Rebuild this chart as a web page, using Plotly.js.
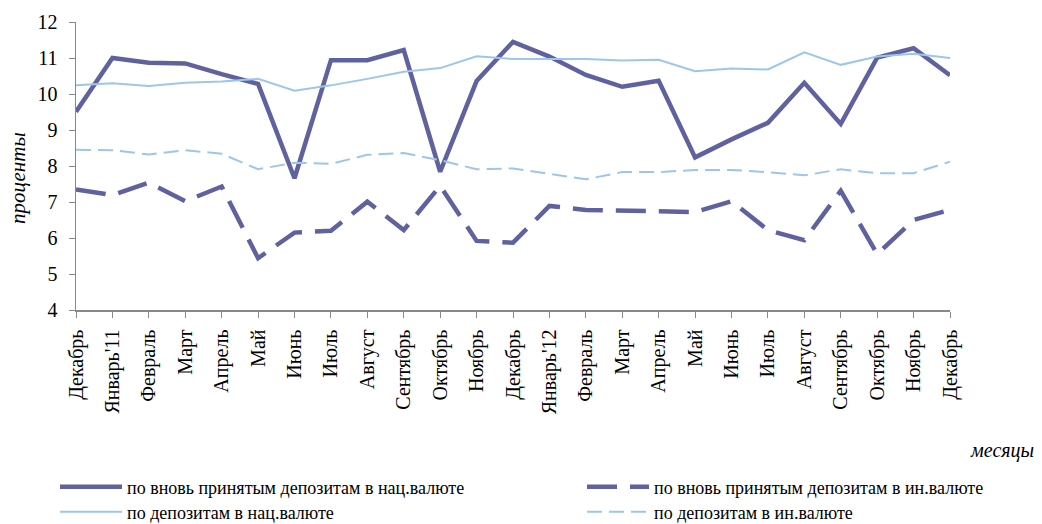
<!DOCTYPE html>
<html>
<head>
<meta charset="utf-8">
<script src="https://cdn.plot.ly/plotly-3.0.1.min.js"></script>
<style>
  html, body { margin: 0; padding: 0; background: #ffffff; }
  #chart { width: 1042px; height: 524px; }
</style>
</head>
<body>
<div id="chart"></div>
<script>
// Month labels (x axis)
var months = ["Декабрь", "Январь'11", "Февраль", "Март", "Апрель", "Май", "Июнь", "Июль", "Август",
  "Сентябрь", "Октябрь", "Ноябрь", "Декабрь", "Январь'12", "Февраль", "Март", "Апрель", "Май",
  "Июнь", "Июль", "Август", "Сентябрь", "Октябрь", "Ноябрь", "Декабрь"];

// Series names
var nameNewNat = "по вновь принятым депозитам в нац.валюте";
var nameNewFor = "по вновь принятым депозитам в ин.валюте";
var nameAllNat = "по депозитам в нац.валюте";
var nameAllFor = "по депозитам в ин.валюте";

// Axis titles
var yTitle = "проценты";
var xTitle = "месяцы";

// Values, percent
var newNat = [9.51, 11.0, 10.87, 10.85, 10.55, 10.28, 7.66, 10.94, 10.94, 11.22, 7.84, 10.36, 11.45,
  11.04, 10.53, 10.2, 10.37, 8.24, 8.74, 9.2, 10.31, 9.17, 11.01, 11.27, 10.52];
var newFor = [7.35, 7.19, 7.54, 7.02, 7.43, 5.44, 6.15, 6.2, 7.01, 6.22, 7.45, 5.92, 5.87,
  6.89, 6.78, 6.75, 6.72, 6.72, 7.02, 6.22, 5.94, 7.31, 5.55, 6.5, 6.78];
var allNat = [10.24, 10.3, 10.22, 10.31, 10.35, 10.42, 10.09, 10.24, 10.42, 10.62, 10.72, 11.05, 10.97,
  10.97, 10.97, 10.93, 10.95, 10.63, 10.71, 10.68, 11.16, 10.81, 11.04, 11.12, 11.0];
var allFor = [8.45, 8.44, 8.32, 8.44, 8.34, 7.91, 8.09, 8.06, 8.31, 8.36, 8.16, 7.91, 7.93,
  7.78, 7.63, 7.83, 7.83, 7.89, 7.89, 7.83, 7.74, 7.91, 7.8, 7.8, 8.12];

var xIdx = months.map(function (m, i) { return i; });

var dark = "#6062a0";
var light = "#9cc6ec";
var serif = "Liberation Serif, Times New Roman, serif";

var traces = [
  { x: xIdx, y: newNat, name: nameNewNat, mode: "lines", line: { color: dark, width: 4.5 }, legend: "legend" },
  { x: xIdx, y: newFor, name: nameNewFor, mode: "lines", line: { color: dark, width: 4.5, dash: "30px,13px" }, legend: "legend2" },
  { x: xIdx, y: allNat, name: nameAllNat, mode: "lines", line: { color: light, width: 2 }, legend: "legend3" },
  { x: xIdx, y: allFor, name: nameAllFor, mode: "lines", line: { color: light, width: 2, dash: "15px,7px" }, legend: "legend4" }
];

function leg(xpx, ypx) {
  return {
    xref: "container", yref: "container",
    x: xpx / 1042, y: 1 - ypx / 524,
    xanchor: "left", yanchor: "middle",
    orientation: "v", itemwidth: 62,
    bgcolor: "rgba(0,0,0,0)", borderwidth: 0,
    font: { family: serif, size: 18, color: "#000" }
  };
}

var layout = {
  width: 1042, height: 524,
  margin: { l: 76, r: 92, t: 22, b: 214, autoexpand: false },
  paper_bgcolor: "#ffffff", plot_bgcolor: "#ffffff",
  font: { family: serif, size: 20, color: "#000" },
  showlegend: true,
  xaxis: {
    range: [0, 24],
    tickmode: "array", tickvals: xIdx, ticktext: months,
    tickangle: -90, automargin: false,
    ticks: "outside", ticklen: 6, tickcolor: "#888888", tickwidth: 1,
    showline: true, linecolor: "#888888", linewidth: 1.5,
    showgrid: false, zeroline: false,
    ticklabelstandoff: 4,
    tickfont: { family: serif, size: 20, color: "#000" }
  },
  yaxis: {
    range: [4, 12], dtick: 1, tick0: 4, automargin: false,
    ticks: "outside", ticklen: 6, tickcolor: "#888888", tickwidth: 1,
    showline: true, linecolor: "#888888", linewidth: 1.5,
    showgrid: false, zeroline: false,
    ticklabelstandoff: 7,
    tickfont: { family: serif, size: 20, color: "#000" }
  },
  legend: leg(55, 487),
  legend2: leg(582, 487),
  legend3: leg(55, 512),
  legend4: leg(582, 512),
  annotations: [
    { text: yTitle, xref: "paper", yref: "paper", x: (18 - 76) / 874, y: (310 - 178) / 288, textangle: -90,
      showarrow: false, xanchor: "center", yanchor: "middle",
      font: { family: serif, size: 21, style: "italic", color: "#000" } },
    { text: xTitle, xref: "paper", yref: "paper", x: (1036 - 76) / 874, y: (310 - 450) / 288,
      showarrow: false, xanchor: "right", yanchor: "middle",
      font: { family: serif, size: 20, style: "italic", color: "#000" } }
  ]
};

Plotly.newPlot("chart", traces, layout, { displayModeBar: false, staticPlot: true });
</script>
</body>
</html>
